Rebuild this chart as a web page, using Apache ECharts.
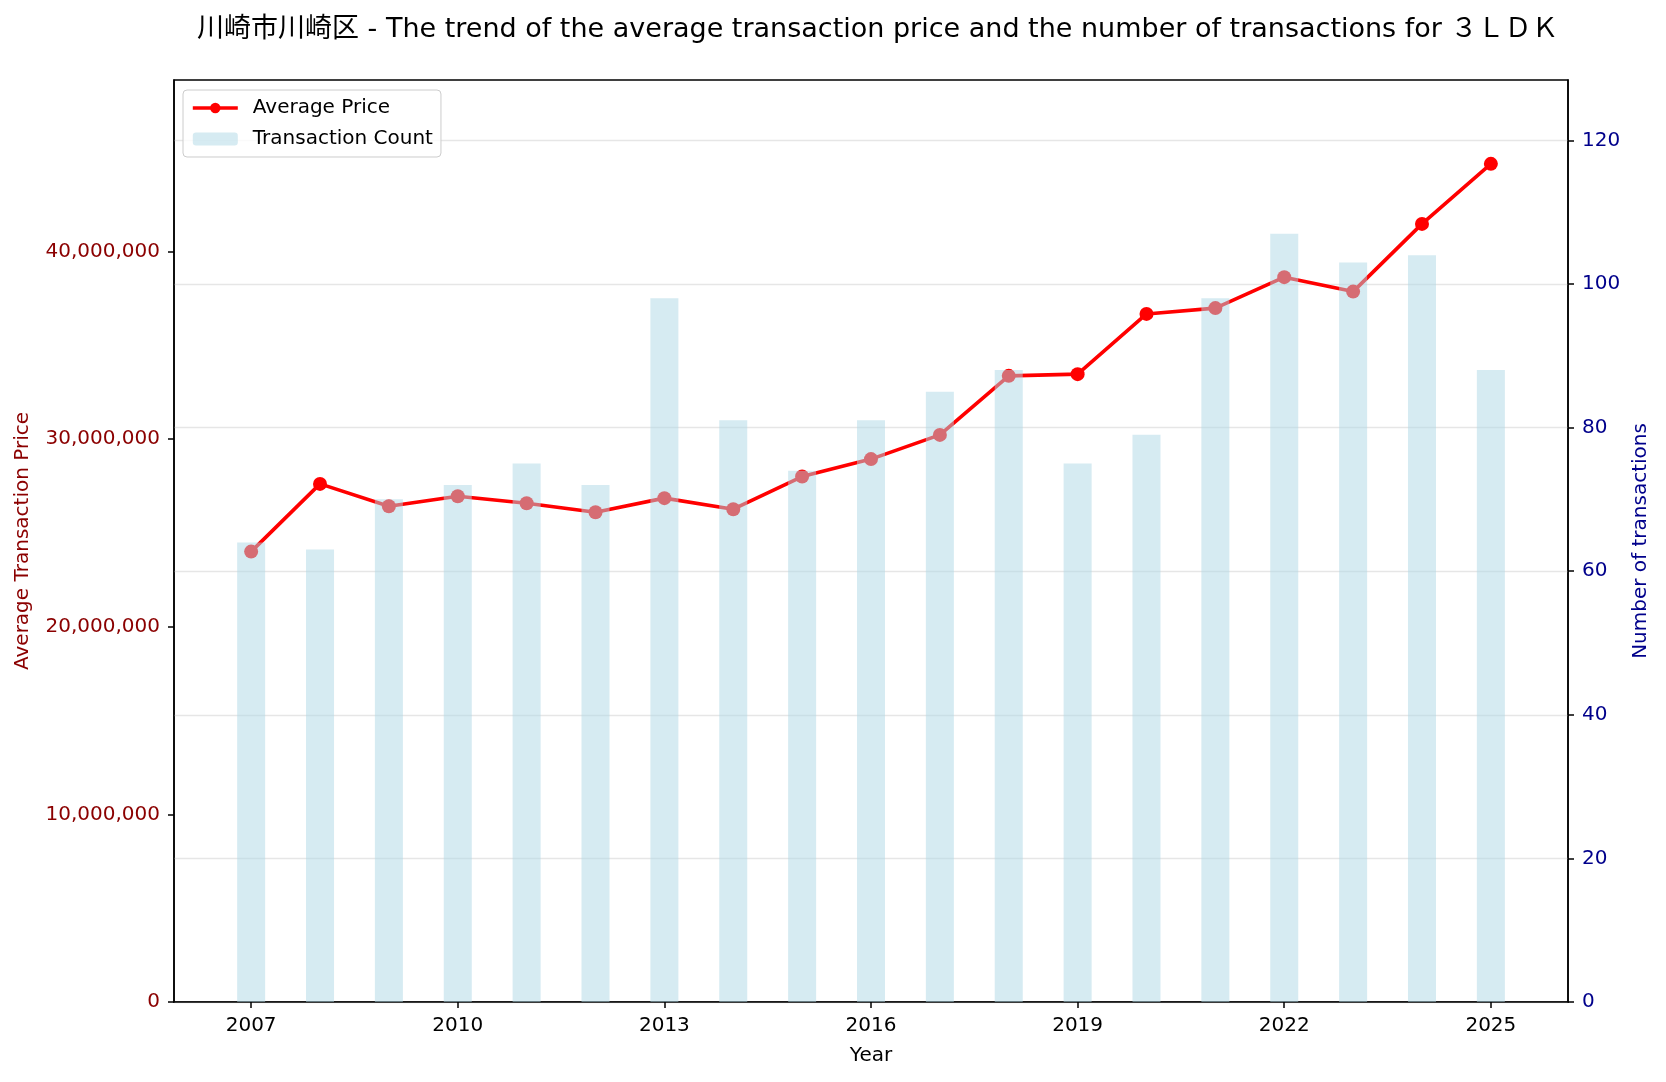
<!DOCTYPE html>
<html>
<head>
<meta charset="utf-8">
<script src="https://cdn.jsdelivr.net/npm/echarts@6/dist/echarts.min.js"></script>
<style>
  html, body { margin: 0; padding: 0; background: #fff; }
  #main { width: 1666px; height: 1082px; }
</style>
</head>
<body>
<div id="main"></div>
<script>
// 年ごとの値
var years = [2007, 2008, 2009, 2010, 2011, 2012, 2013, 2014, 2015, 2016,
             2017, 2018, 2019, 2020, 2021, 2022, 2023, 2024, 2025];
var avgPrice = [24010000, 27620000, 26430000, 26960000, 26590000, 26110000, 26860000,
                26270000, 28010000, 28940000, 30230000, 33380000, 33470000, 36680000,
                36990000, 38640000, 37870000, 41480000, 44680000];
var txCount = [64, 63, 70, 72, 75, 72, 98, 81, 74, 81, 85, 88, 75, 79, 98, 107, 103, 104, 88];

var yearTicks = [2007, 2010, 2013, 2016, 2019, 2022, 2025];
var priceTicks = [0, 10000000, 20000000, 30000000, 40000000];
var countTicks = [0, 20, 40, 60, 80, 100, 120];

var FONT = '"DejaVu Sans", "Noto Sans CJK JP", sans-serif';
var FS = 20;

function addCommas(v) {
    return String(v).replace(/\B(?=(\d{3})+(?!\d))/g, ',');
}

var lineData = [], barData = [];
for (var i = 0; i < years.length; i++) {
    lineData.push([years[i], avgPrice[i]]);
    barData.push([years[i], txCount[i]]);
}

var chart = echarts.init(document.getElementById('main'));
var option = {
    backgroundColor: '#fff',
    animation: false,
    textStyle: { fontFamily: FONT },
    title: {
        // centred over the plot area, not the canvas
        text: '川崎市川崎区 - The trend of the average transaction price and the number of transactions for ３ＬＤＫ',
        left: 192,
        top: 11,
        textStyle: { fontFamily: FONT, fontSize: 27, fontWeight: 'normal', color: '#000' }
    },
    legend: {
        orient: 'vertical',
        left: 183,
        top: 90,
        padding: [8, 8, 8, 8],
        itemGap: 11,
        itemWidth: 45,
        itemHeight: 13,
        borderColor: '#cccccc',
        borderWidth: 1,
        borderRadius: 4,
        backgroundColor: 'rgba(255,255,255,0.8)',
        lineStyle: { width: 3.6 },
        textStyle: { fontFamily: FONT, fontSize: FS, color: '#000', padding: [0, 0, 0, 10] },
        data: ['Average Price', 'Transaction Count']
    },
    grid: {
        left: 174, right: 98, top: 80, bottom: 80,
        show: true,
        borderColor: '#000',
        borderWidth: 1.5,
        backgroundColor: 'transparent',
        outerBoundsMode: 'none'
    },
    xAxis: {
        type: 'value',
        min: 2005.88,
        max: 2026.12,
        name: 'Year',
        nameLocation: 'middle',
        nameGap: 44,
        nameTextStyle: { fontFamily: FONT, fontSize: FS, color: '#000' },
        axisLine: { show: true, lineStyle: { color: '#000', width: 1.5 } },
        axisTick: { show: true, length: 6, customValues: yearTicks, lineStyle: { color: '#000', width: 1.5 } },
        axisLabel: {
            customValues: yearTicks,
            margin: 14,
            fontSize: FS,
            color: '#000',
            fontFamily: FONT,
            formatter: function (v) { return String(v); }
        },
        splitLine: { show: false }
    },
    yAxis: [{
        type: 'value',
        position: 'left',
        min: 0,
        max: 49150000,
        name: 'Average Transaction Price',
        nameLocation: 'middle',
        nameGap: 141,
        nameTextStyle: { fontFamily: FONT, fontSize: FS, color: '#8b0000' },
        axisLine: { show: true, lineStyle: { color: '#000', width: 1.5 } },
        axisTick: { show: true, length: 6, customValues: priceTicks, lineStyle: { color: '#000', width: 1.5 } },
        axisLabel: {
            customValues: priceTicks,
            margin: 14,
            fontSize: FS,
            color: '#8b0000',
            fontFamily: FONT,
            formatter: function (v) { return addCommas(v); }
        },
        splitLine: { show: false }
    }, {
        type: 'value',
        position: 'right',
        min: 0,
        max: 128.4,
        interval: 20,
        name: 'Number of transactions',
        nameLocation: 'middle',
        nameGap: 61,
        nameTextStyle: { fontFamily: FONT, fontSize: FS, color: '#00008b' },
        axisLine: { show: true, lineStyle: { color: '#000', width: 1.5 } },
        axisTick: { show: true, length: 6, customValues: countTicks, lineStyle: { color: '#000', width: 1.5 } },
        axisLabel: {
            customValues: countTicks,
            margin: 14,
            fontSize: FS,
            color: '#00008b',
            fontFamily: FONT
        },
        splitLine: { show: true, lineStyle: { color: '#e6e6e6', width: 1.3 } }
    }],
    series: [{
        name: 'Average Price',
        type: 'line',
        yAxisIndex: 0,
        data: lineData,
        symbol: 'circle',
        symbolSize: 14,
        lineStyle: { color: '#ff0000', width: 3.6 },
        itemStyle: { color: '#ff0000' },
        z: 2
    }, {
        name: 'Transaction Count',
        type: 'bar',
        yAxisIndex: 1,
        data: barData,
        barWidth: 28,
        itemStyle: { color: 'rgba(173,216,230,0.5)' },
        z: 3
    }]
};
chart.setOption(option);
</script>
</body>
</html>
